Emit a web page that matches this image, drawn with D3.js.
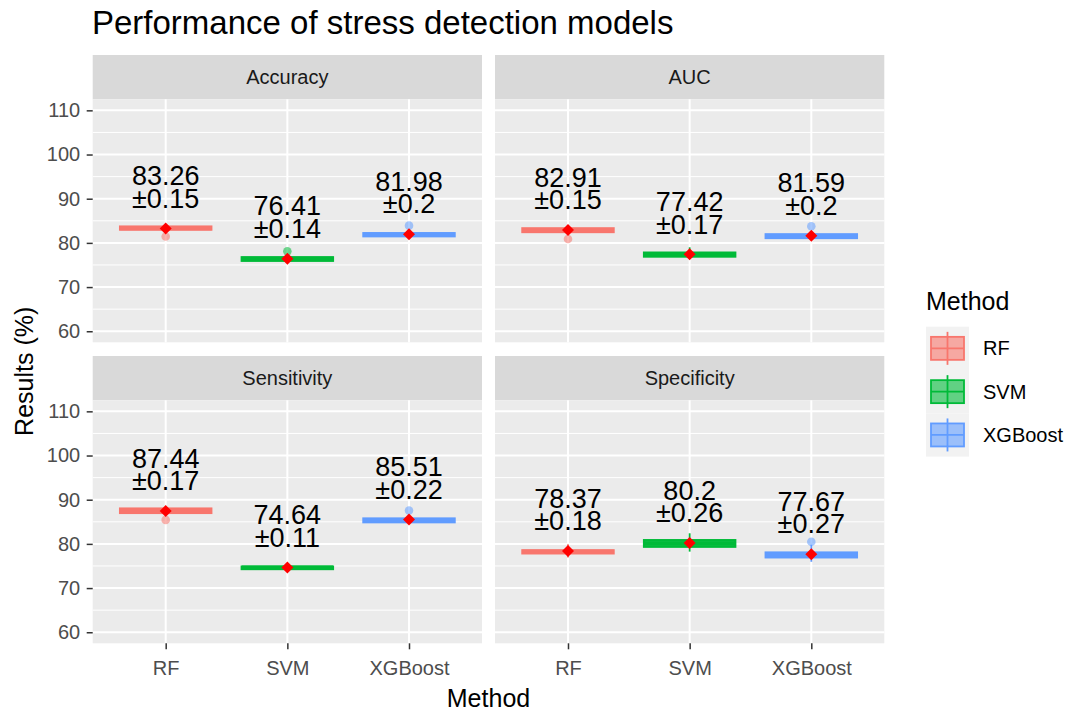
<!DOCTYPE html>
<html>
<head>
<meta charset="utf-8">
<script src="https://cdn.jsdelivr.net/npm/d3@7"></script>
<style>
	body { margin: 0; background: #ffffff; }
	svg text { font-family: "Liberation Sans", Arial, sans-serif; }
</style>
</head>
<body>
<div id="chart"></div>
<script>
// facet order: Accuracy, AUC, Sensitivity, Specificity
const metrics = ["Accuracy", "AUC", "Sensitivity", "Specificity"];
const methods = ["RF", "SVM", "XGBoost"];
const methodColors = ["#F8766D", "#00BA38", "#619CFF"];

// mean and sd as printed above each box
const meanValues = [
	[83.26, 76.41, 81.98],
	[82.91, 77.42, 81.59],
	[87.44, 74.64, 85.51],
	[78.37, 80.2, 77.67]
];
const sdValues = [
	[0.15, 0.14, 0.2],
	[0.15, 0.17, 0.2],
	[0.17, 0.11, 0.22],
	[0.18, 0.26, 0.27]
];

// box stats
const q1Values = [
	[83.0, 75.95, 81.5],
	[82.45, 76.9, 81.1],
	[87.0, 74.3, 84.9],
	[77.85, 79.35, 76.95]
];
const medianValues = [
	[83.35, 76.35, 81.85],
	[82.9, 77.35, 81.5],
	[87.5, 74.6, 85.3],
	[78.2, 80.1, 77.5]
];
const q3Values = [
	[83.7, 76.75, 82.2],
	[83.3, 77.8, 81.95],
	[88.0, 74.85, 85.75],
	[78.55, 80.85, 78.05]
];
const whiskerLow = [
	[82.9, 75.85, 81.4],
	[82.35, 76.7, 81.0],
	[86.9, 74.2, 84.8],
	[76.9, 78.25, 75.95]
];
const whiskerHigh = [
	[83.8, 76.85, 82.3],
	[83.4, 79.0, 82.05],
	[88.1, 74.95, 85.85],
	[79.9, 82.4, 79.8]
];
const outlierValues = [
	[[81.45], [78.08], [83.9]],
	[[80.87], [], [83.75]],
	[[85.43], [], [87.54]],
	[[], [], [80.5]]
];

const yTicks = [60, 70, 80, 90, 100, 110];
const yMinorTicks = [65, 75, 85, 95, 105];
const yDomain = [57.5, 112.5];

class FacetBoxPlot {
	constructor({ container, width, height }) {
		this.width = width;
		this.height = height;
		this.panelLefts = [92.7, 495];
		this.panelWidth = 389.3;
		this.rowTops = [55, 356];
		this.stripHeight = 44.3;
		this.panelHeight = 243;

		this.svg = d3.select(container)
			.append("svg")
			.attr("width", width)
			.attr("height", height);

		this.x = d3.scalePoint().domain(methods).range([0, this.panelWidth]).padding(0.6);
		this.y = d3.scaleLinear().domain(yDomain).range([this.panelHeight, 0]);
		this.color = d3.scaleOrdinal().domain(methods).range(methodColors);

		this.drawTitles();
		metrics.forEach((m, i) => this.drawPanel(m, i));
		this.drawLegend();
	}

	drawTitles() {
		this.svg.append("text")
			.attr("x", 92)
			.attr("y", 34)
			.attr("font-size", 33)
			.attr("fill", "#000")
			.text("Performance of stress detection models");

		this.svg.append("text")
			.attr("x", this.panelLefts[0] + (this.panelLefts[1] + this.panelWidth - this.panelLefts[0]) / 2)
			.attr("y", 706.5)
			.attr("text-anchor", "middle")
			.attr("font-size", 25)
			.attr("fill", "#000")
			.text("Method");

		const midY = (this.rowTops[0] + this.stripHeight + this.rowTops[1] + this.stripHeight + this.panelHeight) / 2;
		this.svg.append("text")
			.attr("transform", `translate(33, ${midY}) rotate(-90)`)
			.attr("text-anchor", "middle")
			.attr("font-size", 25)
			.attr("fill", "#000")
			.text("Results (%)");
	}

	drawPanel(metric, i) {
		const col = i % 2, row = Math.floor(i / 2);
		const left = this.panelLefts[col];
		const top = this.rowTops[row];

		// strip
		const strip = this.svg.append("g").attr("transform", `translate(${left}, ${top})`);
		strip.append("rect")
			.attr("width", this.panelWidth)
			.attr("height", this.stripHeight)
			.attr("fill", "#d9d9d9");
		strip.append("text")
			.attr("x", this.panelWidth / 2)
			.attr("y", this.stripHeight / 2 + 7.2)
			.attr("text-anchor", "middle")
			.attr("font-size", 20)
			.attr("fill", "#1a1a1a")
			.text(metric);

		const g = this.svg.append("g")
			.attr("transform", `translate(${left}, ${top + this.stripHeight})`);

		g.append("rect")
			.attr("width", this.panelWidth)
			.attr("height", this.panelHeight)
			.attr("fill", "#ebebeb");

		g.selectAll(".minor").data(yMinorTicks).join("line")
			.attr("x1", 0).attr("x2", this.panelWidth)
			.attr("y1", d => this.y(d)).attr("y2", d => this.y(d))
			.attr("stroke", "#fff").attr("stroke-width", 1);

		g.selectAll(".major").data(yTicks).join("line")
			.attr("x1", 0).attr("x2", this.panelWidth)
			.attr("y1", d => this.y(d)).attr("y2", d => this.y(d))
			.attr("stroke", "#fff").attr("stroke-width", 2);

		g.selectAll(".vgrid").data(methods).join("line")
			.attr("x1", d => this.x(d)).attr("x2", d => this.x(d))
			.attr("y1", 0).attr("y2", this.panelHeight)
			.attr("stroke", "#fff").attr("stroke-width", 2);

		// axes: y on left column, x on bottom row
		if (col === 0) {
			const ya = g.append("g")
				.call(d3.axisLeft(this.y).tickValues(yTicks).tickSize(6).tickPadding(6.5));
			this.styleAxis(ya);
		}
		if (row === 1) {
			const xa = g.append("g")
				.attr("transform", `translate(0, ${this.panelHeight})`)
				.call(d3.axisBottom(this.x).tickSize(6).tickPadding(11.5));
			this.styleAxis(xa);
		}

		const boxes = methods.map((m, j) => ({
			method: m,
			q1: q1Values[i][j],
			med: medianValues[i][j],
			q3: q3Values[i][j],
			lo: whiskerLow[i][j],
			hi: whiskerHigh[i][j],
			outliers: outlierValues[i][j],
			mean: meanValues[i][j],
			sd: sdValues[i][j]
		}));
		const boxW = this.x.step() * 0.75;

		const bg = g.selectAll(".box").data(boxes).join("g").attr("class", "box");

		bg.append("line")
			.attr("x1", d => this.x(d.method)).attr("x2", d => this.x(d.method))
			.attr("y1", d => this.y(d.hi)).attr("y2", d => this.y(d.lo))
			.attr("stroke", d => this.color(d.method))
			.attr("stroke-width", 1.8);

		bg.append("rect")
			.attr("x", d => this.x(d.method) - boxW / 2)
			.attr("y", d => this.y(d.q3))
			.attr("width", boxW)
			.attr("height", d => this.y(d.q1) - this.y(d.q3))
			.attr("fill", d => this.color(d.method))
			.attr("fill-opacity", 0.8)
			.attr("stroke", d => this.color(d.method))
			.attr("stroke-width", 2.2);

		bg.append("line")
			.attr("x1", d => this.x(d.method) - boxW / 2)
			.attr("x2", d => this.x(d.method) + boxW / 2)
			.attr("y1", d => this.y(d.med)).attr("y2", d => this.y(d.med))
			.attr("stroke", d => this.color(d.method))
			.attr("stroke-width", 4.4);

		// outliers
		bg.selectAll(".outlier")
			.data(d => d.outliers.map(v => ({ method: d.method, value: v })))
			.join("circle")
			.attr("cx", d => this.x(d.method))
			.attr("cy", d => this.y(d.value))
			.attr("r", 4.3)
			.attr("fill", d => this.color(d.method))
			.attr("fill-opacity", 0.55);

		// mean diamond
		bg.append("path")
			.attr("transform", d => `translate(${this.x(d.method)}, ${this.y(d.mean)})`)
			.attr("d", "M0,-6L6,0L0,6L-6,0Z")
			.attr("fill", "#ff0000");

		// mean ± sd label
		const lbl = bg.append("text")
			.attr("text-anchor", "middle")
			.attr("font-size", 27)
			.attr("fill", "#000");
		lbl.append("tspan")
			.attr("x", d => this.x(d.method))
			.attr("y", d => this.y(d.mean + 4.7) - 22.6)
			.text(d => `${d.mean}`);
		lbl.append("tspan")
			.attr("x", d => this.x(d.method))
			.attr("y", d => this.y(d.mean + 4.7))
			.text(d => `±${d.sd}`);
	}

	styleAxis(axis) {
		axis.select(".domain").remove();
		axis.selectAll(".tick line").attr("stroke", "#333333").attr("stroke-width", 1.5);
		axis.selectAll(".tick text")
			.attr("fill", "#4d4d4d")
			.attr("font-size", 20)
			.style("font-family", "'Liberation Sans', Arial, sans-serif");
	}

	drawLegend() {
		const lg = this.svg.append("g").attr("transform", "translate(926, 0)");
		lg.append("text")
			.attr("x", 0)
			.attr("y", 310)
			.attr("font-size", 25)
			.attr("fill", "#000")
			.text("Method");

		const keyH = 43.3, keyW = 43, keyTop = 326.7;
		const keys = lg.selectAll(".key").data(methods).join("g")
			.attr("transform", (d, i) => `translate(0, ${keyTop + i * keyH})`);

		keys.append("rect")
			.attr("width", keyW)
			.attr("height", keyH)
			.attr("fill", "#f2f2f2");
		keys.append("line")
			.attr("x1", keyW / 2).attr("x2", keyW / 2)
			.attr("y1", keyH / 2 - 16.5).attr("y2", keyH / 2 + 16.5)
			.attr("stroke", d => this.color(d))
			.attr("stroke-width", 1.8);
		keys.append("rect")
			.attr("x", 5)
			.attr("y", keyH / 2 - 11.5)
			.attr("width", keyW - 10)
			.attr("height", 23)
			.attr("fill", d => this.color(d))
			.attr("fill-opacity", 0.6)
			.attr("stroke", d => this.color(d))
			.attr("stroke-width", 1.8);
		keys.append("line")
			.attr("x1", 5).attr("x2", keyW - 5)
			.attr("y1", keyH / 2).attr("y2", keyH / 2)
			.attr("stroke", d => this.color(d))
			.attr("stroke-width", 1.8);
		keys.append("text")
			.attr("x", 57)
			.attr("y", keyH / 2 + 7)
			.attr("font-size", 20)
			.attr("fill", "#000")
			.text(d => d);
	}
}

new FacetBoxPlot({ container: "#chart", width: 1073, height: 712 });
</script>
</body>
</html>
